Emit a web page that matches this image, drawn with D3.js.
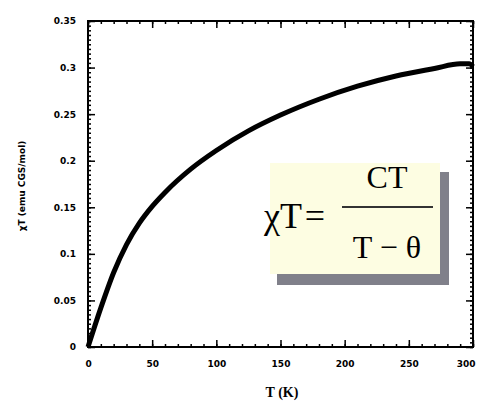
<!DOCTYPE html>
<html>
<head>
<meta charset="utf-8">
<script src="https://cdn.jsdelivr.net/npm/d3@7"></script>
<style>
  body { margin: 0; background: #fff; }
  svg { display: block; }
</style>
</head>
<body>
<div id="canvas"></div>
<script>
"use strict"

/* Data: temperature (K) and chi*T (emu CGS/mol) */
let temps = [0, 10, 20, 30, 40, 50, 60, 80, 100, 125, 150, 180, 210, 240, 270, 290, 297, 300];
let chiT  = [0, 0.042, 0.080, 0.110, 0.133, 0.151, 0.166, 0.191, 0.211, 0.232, 0.249, 0.266, 0.280, 0.291, 0.299, 0.304, 0.304, 0.301];

let xTicks = [0, 50, 100, 150, 200, 250, 300];
let yTicks = [0, 0.05, 0.1, 0.15, 0.2, 0.25, 0.3, 0.35];
let yTickLabels = ["0", "0.05", "0.1", "0.15", "0.2", "0.25", "0.3", "0.35"];

/* Drawing config */
let svgWidth = 477;
let svgHeight = 403;
let plotLeft = 88, plotRight = 473, plotTop = 21, plotBottom = 347;

let svg = d3.select("#canvas")
    .append("svg")
    .attr("width", svgWidth)
    .attr("height", svgHeight);

let xScale = d3.scaleLinear()
    .domain([0, 300])
    .range([plotLeft, plotRight]);

let yScale = d3.scaleLinear()
    .domain([0, 0.35])
    .range([plotBottom, plotTop]);

let minorX = d3.range(0, 301, 10);
let minorY = d3.range(0, 0.3501, 0.005);

/* minor ticks, all four sides, pointing inward */
function tickStyle(g) {
    g.select(".domain").remove();
    g.selectAll("line").attr("stroke", "black").attr("stroke-width", 1.5);
}

svg.append("g").attr("transform", `translate(0,${plotBottom})`)
    .call(d3.axisBottom(xScale).tickValues(minorX).tickSize(-3).tickFormat(""))
    .call(tickStyle);
svg.append("g").attr("transform", `translate(0,${plotTop})`)
    .call(d3.axisTop(xScale).tickValues(minorX).tickSize(-3).tickFormat(""))
    .call(tickStyle);
svg.append("g").attr("transform", `translate(${plotLeft},0)`)
    .call(d3.axisLeft(yScale).tickValues(minorY).tickSize(-3).tickFormat(""))
    .call(tickStyle);
svg.append("g").attr("transform", `translate(${plotRight},0)`)
    .call(d3.axisRight(yScale).tickValues(minorY).tickSize(-3).tickFormat(""))
    .call(tickStyle);

/* major ticks with labels */
let xAxis = svg.append("g").attr("transform", `translate(0,${plotBottom})`)
    .call(d3.axisBottom(xScale).tickValues(xTicks).tickSize(-7).tickPadding(14))
    .call(tickStyle);
xAxis.selectAll("text")
    .attr("font-family", "DejaVu Sans, sans-serif")
    .attr("font-size", 9)
    .attr("font-weight", "bold")
    .attr("fill", "black");
// the last label sits against the right edge
xAxis.selectAll("text")
    .filter(d => d === 300)
    .attr("text-anchor", "end")
    .attr("dx", 2);

let yAxis = svg.append("g").attr("transform", `translate(${plotLeft},0)`)
    .call(d3.axisLeft(yScale).tickValues(yTicks).tickSize(-7).tickPadding(12)
        .tickFormat((d, i) => yTickLabels[i]))
    .call(tickStyle);
yAxis.selectAll("text")
    .attr("font-family", "DejaVu Sans, sans-serif")
    .attr("font-size", 9)
    .attr("font-weight", "bold")
    .attr("fill", "black");

svg.append("g").attr("transform", `translate(0,${plotTop})`)
    .call(d3.axisTop(xScale).tickValues(xTicks).tickSize(-7).tickFormat(""))
    .call(tickStyle);
svg.append("g").attr("transform", `translate(${plotRight},0)`)
    .call(d3.axisRight(yScale).tickValues(yTicks).tickSize(-7).tickFormat(""))
    .call(tickStyle);

/* frame */
svg.append("rect")
    .attr("x", plotLeft)
    .attr("y", plotTop)
    .attr("width", plotRight - plotLeft)
    .attr("height", plotBottom - plotTop)
    .attr("fill", "none")
    .attr("stroke", "black")
    .attr("stroke-width", 2);

/* curve */
let line = d3.line()
    .x((d, i) => xScale(temps[i]))
    .y(d => yScale(d))
    .curve(d3.curveMonotoneX);

svg.append("path")
    .datum(chiT)
    .attr("d", line)
    .attr("fill", "none")
    .attr("stroke", "black")
    .attr("stroke-width", 5)
    .attr("stroke-linejoin", "round");

/* axis labels */
svg.append("text")
    .attr("x", 282)
    .attr("y", 397)
    .attr("text-anchor", "middle")
    .attr("font-family", "Liberation Serif, serif")
    .attr("font-size", 14)
    .attr("font-weight", "bold")
    .text("T (K)");

svg.append("text")
    .attr("transform", "rotate(-90)")
    .attr("x", -186)
    .attr("y", 22)
    .attr("text-anchor", "middle")
    .attr("dominant-baseline", "middle")
    .attr("font-family", "DejaVu Sans, sans-serif")
    .attr("font-size", 9)
    .attr("font-weight", "bold")
    .text("\u03C7T (emu CGS/mol)");

/* formula box with shadow */
let box = svg.append("g");
box.append("rect")
    .attr("x", 277).attr("y", 172)
    .attr("width", 172).attr("height", 113)
    .attr("fill", "#80808a");
box.append("rect")
    .attr("x", 270).attr("y", 163)
    .attr("width", 170).attr("height", 111)
    .attr("fill", "#fdfde2");

let serif = "Liberation Serif, Times New Roman, serif";
box.append("text")
    .attr("x", 264).attr("y", 228)
    .attr("font-family", serif)
    .attr("font-size", 36)
    .text("\u03C7T");
box.append("text")
    .attr("x", 315).attr("y", 228)
    .attr("text-anchor", "middle")
    .attr("font-family", serif)
    .attr("font-size", 36)
    .text("=");
box.append("line")
    .attr("x1", 342).attr("x2", 433)
    .attr("y1", 207).attr("y2", 207)
    .attr("stroke", "#333")
    .attr("stroke-width", 2);
box.append("text")
    .attr("x", 387).attr("y", 188)
    .attr("text-anchor", "middle")
    .attr("font-family", serif)
    .attr("font-size", 32)
    .text("CT");
box.append("text")
    .attr("x", 387).attr("y", 258)
    .attr("text-anchor", "middle")
    .attr("font-family", serif)
    .attr("font-size", 32)
    .text("T \u2212 \u03B8");
</script>
</body>
</html>
